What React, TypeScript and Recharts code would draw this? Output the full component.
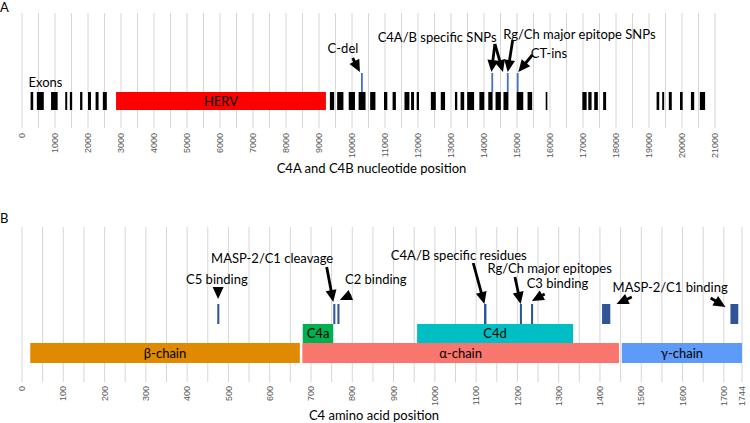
import {
  CartesianGrid,
  ComposedChart,
  ReferenceArea,
  ReferenceDot,
  ReferenceLine,
  Scatter,
  XAxis,
  YAxis,
} from "recharts";

const FONT = "Lato, 'Open Sans', sans-serif";
const TICK_FONT = "'Liberation Sans', Arial, sans-serif";

// ---- Panel A: C4A / C4B gene (nucleotides)
const exons: [number, number][] = [
  [260, 340], [450, 660], [880, 1080], [1310, 1370], [1450, 1520],
  [1760, 1830], [2000, 2090], [2230, 2320], [2450, 2570],
  [9330, 9460], [9550, 9740], [9900, 10090], [10200, 10410], [10550, 10710],
  [10970, 11070], [11230, 11330], [11590, 11740], [11790, 11880], [11960, 12030],
  [12390, 12540], [12690, 12820], [13120, 13190], [13290, 13400], [13490, 13700],
  [13860, 14010], [14130, 14260], [14350, 14510], [14590, 14740], [14990, 15190],
  [15320, 15460], [15870, 15920], [16980, 17110], [17160, 17260], [17340, 17450],
  [17610, 17700], [19230, 19310], [19400, 19460], [19600, 19690], [19940, 20020],
  [20270, 20370], [20540, 20700],
];
const herv: [number, number] = [2850, 9210];
const variantSites = [10300, 14250, 14720, 15020];
const nucleotideLabels = [
  0, 1000, 2000, 3000, 4000, 5000, 6000, 7000, 8000, 9000, 10000,
  11000, 12000, 13000, 14000, 15000, 16000, 17000, 18000, 19000, 20000, 21000,
];
const notesA = ["Exons", "C-del", "C4A/B specific SNPs", "Rg/Ch major epitope SNPs", "CT-ins"];

// ---- Panel B: C4 protein (amino acids)
const chains = [
  { name: "β-chain", from: 20, to: 673 },
  { name: "α-chain", from: 679, to: 1446 },
  { name: "γ-chain", from: 1453, to: 1744 },
];
const fragments = [
  { name: "C4a", from: 680, to: 754 },
  { name: "C4d", from: 957, to: 1335 },
];
const sites: [number, number][] = [
  [473, 478], [754, 759], [764, 769], [1119, 1125], [1206, 1211], [1233, 1238],
  [1405, 1425], [1716, 1735],
];
const residueLabels = [
  0, 100, 200, 300, 400, 500, 600, 700, 800, 900, 1000,
  1100, 1200, 1300, 1400, 1500, 1600, 1700, 1744,
];
const notesB = [
  "MASP-2/C1 cleavage", "C5 binding", "C2 binding", "C4A/B specific residues",
  "Rg/Ch major epitopes", "C3 binding", "MASP-2/C1 binding",
];

// layout: label anchors and arrows in chart units
const notePosA: [number, number][] = [[712, 46], [9727, 80], [12580, 91], [16890, 94], [15970, 75]];
const arrowsA = [
  [10020, 70, 10240, 56], [14330, 84, 14225, 56], [14330, 84, 14575, 56],
  [14870, 88, 14718, 56], [15464, 73, 15040, 56],
];
const notePosB: [number, number][] = [
  [606, 124], [472, 103], [857, 103], [1058, 127], [1278, 114], [1297, 99], [1570, 95],
];
const arrowsB = [
  [475, 95, 475, 83], [738, 115, 754, 80], [797, 87, 770, 82], [1093, 119, 1120, 78],
  [1194, 105, 1208, 78], [1266, 88, 1235, 81], [1477, 85, 1440, 78], [1668, 84, 1704, 75],
];

const chainColor: Record<string, string> = {
  "β-chain": "#DF8A00",
  "α-chain": "#F8766D",
  "γ-chain": "#5E9BF8",
  C4a: "#00B050",
  C4d: "#00BFC4",
};

const gridA = Array.from({ length: 43 }, (_, i) => i * 500);
const gridB = [...Array.from({ length: 35 }, (_, i) => i * 50), 1744];

const labelStyle = { fill: "#000", fontSize: 13, fontFamily: FONT };

function Arrow(props: any) {
  const { x1, y1, x2, y2 } = props;
  const dx = x2 - x1;
  const dy = y2 - y1;
  const len = Math.hypot(dx, dy) || 1;
  const ux = dx / len;
  const uy = dy / len;
  const head = Math.min(12, len);
  const hw = 5.5;
  const bx = x2 - ux * head;
  const by = y2 - uy * head;
  return (
    <g>
      {len > head && <line x1={x1} y1={y1} x2={bx + ux} y2={by + uy} stroke="#000" strokeWidth={2.8} />}
      <polygon
        points={`${x2},${y2} ${bx - uy * hw},${by + ux * hw} ${bx + uy * hw},${by - ux * hw}`}
        fill="#000"
      />
    </g>
  );
}

const makeTick = (labels: number[]) => (props: any) => {
  const { x, y, payload } = props;
  if (!labels.includes(payload.value)) return <g />;
  return (
    <text
      x={x}
      y={y}
      dy="0.35em"
      transform={`rotate(-90, ${x}, ${y})`}
      textAnchor="end"
      fontSize={9}
      fontFamily={TICK_FONT}
      fill="#595959"
    >
      {payload.value}
    </text>
  );
};

const VariantMark = (p: any) => (
  <line x1={p.cx} x2={p.cx} y1={p.cy} y2={p.cy - 19} stroke="#4472C4" strokeWidth={1.8} />
);
const Nothing = () => <g />;

function note(x: number, y: number, text: string) {
  return (
    <ReferenceDot
      key={text}
      x={x}
      y={y}
      r={0}
      fill="none"
      stroke="none"
      label={{ value: text, position: "center", ...labelStyle }}
    />
  );
}

function GeneChart() {
  const variantData = variantSites.map((s) => ({ x: s, y: 36 }));
  return (
    <ComposedChart width={750} height={180} margin={{ top: 13, right: 35, bottom: 2, left: 22 }}>
      <CartesianGrid horizontal={false} stroke="#D6D6D6" />
      <XAxis
        type="number"
        dataKey="x"
        domain={[0, 21000]}
        allowDataOverflow
        ticks={gridA}
        interval={0}
        tick={makeTick(nucleotideLabels)}
        tickLine={false}
        axisLine={false}
        tickSize={0}
        tickMargin={5}
        height={50}
        label={{ value: "C4A and C4B nucleotide position", position: "insideBottom", offset: 5, dx: 3, ...labelStyle }}
      />
      <YAxis type="number" dataKey="y" domain={[0, 115]} allowDataOverflow hide />
      {exons.map(([a, b], i) => (
        <ReferenceArea key={`ex${i}`} x1={a} x2={b} y1={18} y2={36} fill="#000" fillOpacity={1} stroke="none" />
      ))}
      <ReferenceArea
        x1={herv[0]}
        x2={herv[1]}
        y1={18}
        y2={36}
        fill="#FF0000"
        fillOpacity={1}
        stroke="none"
        label={{ value: "HERV", position: "center", ...labelStyle }}
      />
      <Scatter data={variantData} dataKey="y" shape={VariantMark} isAnimationActive={false} />
      {arrowsA.map(([x1, y1, x2, y2], i) => (
        <ReferenceLine key={`aa${i}`} segment={[{ x: x1, y: y1 }, { x: x2, y: y2 }]} shape={Arrow} />
      ))}
      {notesA.map((t, i) => note(notePosA[i][0], notePosA[i][1], t))}
    </ComposedChart>
  );
}

function ProteinChart() {
  const extent = chains.map((c) => ({ x: c.from, y: 19 }));
  return (
    <ComposedChart width={750} height={233} margin={{ top: 37, right: 8, bottom: 0, left: 22 }}>
      <CartesianGrid horizontal={false} stroke="#D6D6D6" />
      <XAxis
        type="number"
        dataKey="x"
        domain={[0, 1744]}
        allowDataOverflow
        ticks={gridB}
        interval={0}
        tick={makeTick(residueLabels)}
        tickLine={false}
        axisLine={false}
        tickSize={0}
        tickMargin={4}
        height={41}
        label={{ value: "C4 amino acid position", position: "insideBottom", offset: 3, dx: -8, ...labelStyle }}
      />
      <YAxis type="number" dataKey="y" domain={[0, 155]} allowDataOverflow hide />
      <Scatter data={extent} dataKey="y" shape={Nothing} isAnimationActive={false} />
      {chains.map((c) => (
        <ReferenceArea
          key={c.name}
          x1={c.from}
          x2={c.to}
          y1={19}
          y2={39}
          fill={chainColor[c.name]}
          fillOpacity={1}
          stroke="none"
          label={{ value: c.name, position: "center", ...labelStyle }}
        />
      ))}
      {fragments.map((c) => (
        <ReferenceArea
          key={c.name}
          x1={c.from}
          x2={c.to}
          y1={39}
          y2={58}
          fill={chainColor[c.name]}
          fillOpacity={1}
          stroke="none"
          label={{ value: c.name, position: "center", ...labelStyle }}
        />
      ))}
      {sites.map(([a, b], i) => (
        <ReferenceArea key={`s${i}`} x1={a} x2={b} y1={58} y2={78} fill="#2F5597" fillOpacity={1} stroke="none" />
      ))}
      {arrowsB.map(([x1, y1, x2, y2], i) => (
        <ReferenceLine key={`ab${i}`} segment={[{ x: x1, y: y1 }, { x: x2, y: y2 }]} shape={Arrow} />
      ))}
      {notesB.map((t, i) => note(notePosB[i][0], notePosB[i][1], t))}
    </ComposedChart>
  );
}

export default function App() {
  const letter = { position: "absolute" as const, left: 0, fontFamily: FONT, fontSize: 13, lineHeight: "16px" };
  return (
    <div style={{ position: "absolute", left: 0, top: 0, width: 750, height: 423, background: "#fff" }}>
      <div style={{ position: "absolute", left: 0, top: 0 }}>
        <GeneChart />
      </div>
      <div style={{ position: "absolute", left: 0, top: 190 }}>
        <ProteinChart />
      </div>
      <div style={{ ...letter, top: -1 }}>A</div>
      <div style={{ ...letter, top: 210 }}>B</div>
    </div>
  );
}
